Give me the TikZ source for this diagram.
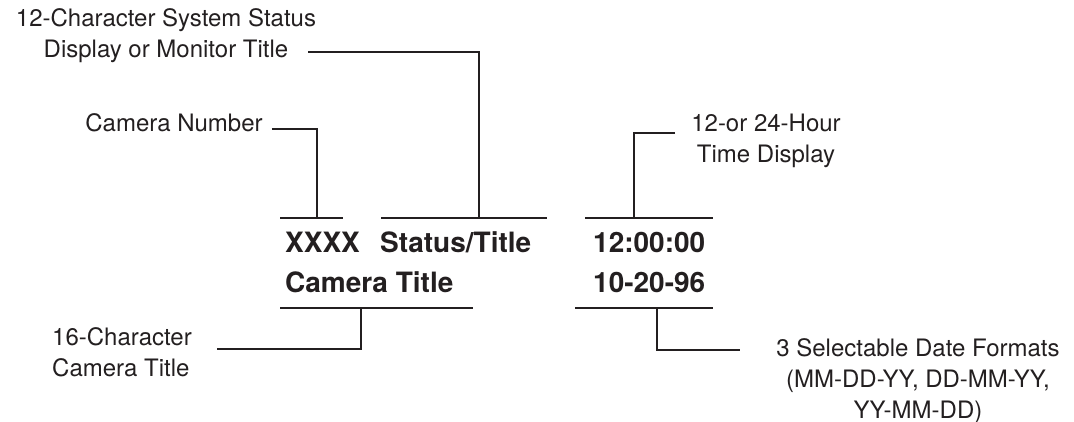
\documentclass[tikz,border=0pt]{standalone}
\usepackage{fontspec}
\setmainfont{TeX Gyre Heros}
\usetikzlibrary{positioning}
\definecolor{ink}{HTML}{231F20}

\begin{document}
\begin{tikzpicture}[
        x=1pt, y=-1pt,
        lbl/.style={inner sep=0pt, text=ink, font=\fontsize{24}{31}\selectfont},
        osd/.style={inner sep=0pt, text=ink, anchor=base west, font=\fontsize{28}{40}\selectfont\bfseries},
        bar/.style={draw=ink, line width=2.8pt},
        lead/.style={draw=ink, line width=2.4pt},
    ]
    \useasboundingbox (0,0) rectangle (1074,422);

    % On-screen display
    \node[osd] (camno) at (285,253) {XXXX};
    \node[osd] (status) at (380,253) {Status/Title};
    \node[osd] (clock) at (593,253) {12:00:00};
    \node[osd] (camtitle) at (285,293) {Camera Title};
    \node[osd] (date) at (593,293) {10-20-96};

    % Bars
    \draw[bar] (280,218) -- (343,218);
    \draw[bar] (381,218) -- (547,218);
    \draw[bar] (585,218) -- (713,218);
    \draw[bar] (280,308) -- (473,308);
    \draw[bar] (575,308) -- (713,308);

    \coordinate (camtap) at (317,218);
    \coordinate (stattap) at (479,218);
    \coordinate (clocktap) at (634,218);
    \coordinate (titletap) at (361,308);
    \coordinate (datetap) at (657,308);

    % Labels (base = last line)
    \node[lbl, align=center, anchor=base] (statlbl) at (166,58) {12-Character System Status\\Display or Monitor Title};
    \node[lbl, anchor=base] (camlbl) at (174,132) {Camera Number};
    \node[lbl, align=center, anchor=base] (timelbl) at (766,163) {12-or 24-Hour\\Time Display};
    \node[lbl, align=left, anchor=base west] (titlelbl) at (52,376) {16-Character\\Camera Title};
    \node[lbl, align=center, anchor=base] (datelbl) at (918,418) {3 Selectable Date Formats\\(MM-DD-YY, DD-MM-YY,\\YY-MM-DD)};

    \coordinate (statpin) at (308,52);
    \coordinate (campin) at ([shift={(9,-3)}]camlbl.base east);
    \coordinate (timepin) at (675,133);
    \coordinate (titlepin) at (217,349);
    \coordinate (datepin) at (740,350);

    % Leaders
    \draw[lead] (statpin) -| (stattap);
    \draw[lead] (campin) -| (camtap);
    \draw[lead] (timepin) -| (clocktap);
    \draw[lead] (titletap) |- (titlepin);
    \draw[lead] (datetap) |- (datepin);

\end{tikzpicture}
\end{document}
